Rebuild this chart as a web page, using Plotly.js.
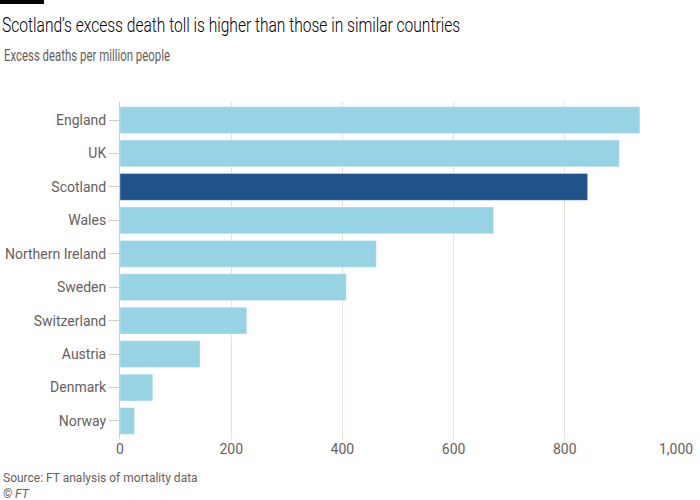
<!DOCTYPE html>
<html>
<head>
<meta charset="utf-8">
<script src="https://cdn.plot.ly/plotly-3.0.1.min.js"></script>
<style>html,body{margin:0;padding:0;background:#fff;}#chart{width:700px;height:500px;}</style>
</head>
<body>
<div id="chart"></div>
<script>
const countries = ["England","UK","Scotland","Wales","Northern Ireland","Sweden","Switzerland","Austria","Denmark","Norway"];
const excessDeaths = [935, 898, 841, 672, 461, 407, 228, 144, 59, 26];
const highlight = "Scotland";
const xTickVals = [0, 200, 400, 600, 800, 1000];
const xTickText = ["0", "200", "400", "600", "800", "1,000"];

const FONT = "Roboto, 'Noto Sans', sans-serif";
const GREY = "#66605c";
const GRID = "#e9e1da";

const colours = countries.map(c => c === highlight ? "#1f538a" : "#96d3e5");

const trace = {
  type: "bar",
  orientation: "h",
  y: countries,
  x: excessDeaths,
  marker: {color: colours, line: {width: 1, color: "rgba(255,255,255,0.35)"}},
  hoverinfo: "skip"
};

const layout = {
  width: 700, height: 500,
  paper_bgcolor: "#fff", plot_bgcolor: "#fff",
  margin: {l: 120, r: 24, t: 102, b: 61},
  showlegend: false,
  bargap: 0.2,
  font: {family: FONT, color: GREY, size: 14},
  title: {
    text: "Scotland’s excess death toll is higher than those in similar countries",
    font: {family: FONT, size: 21, color: "#000", weight: 300},
    xref: "container", yref: "container",
    x: 0.003, xanchor: "left", y: 0.95, yanchor: "middle"
  },
  xaxis: {
    range: [0, 1000],
    tickvals: xTickVals, ticktext: xTickText,
    showgrid: true, gridcolor: GRID, gridwidth: 1,
    zeroline: false, showline: false, ticks: "",
    tickfont: {family: FONT, size: 14, color: GREY},
    fixedrange: true
  },
  yaxis: {
    type: "category",
    range: [9.54, -0.54],
    showline: true, linecolor: "#d5cbc2", linewidth: 1,
    ticks: "outside", ticklen: 10, tickcolor: "#d5cbc2", tickwidth: 1,
    tickfont: {family: FONT, size: 14, color: GREY},
    showgrid: false, zeroline: false,
    fixedrange: true
  },
  shapes: [
    {type: "rect", xref: "paper", yref: "paper", x0: -120/556, x1: -76/556, y0: 1 + 98/337, y1: 1 + 102/337,
     fillcolor: "#000", line: {width: 0}}
  ],
  annotations: [
    {text: "Excess deaths per million people", xref: "paper", yref: "paper",
     x: -118/556, y: 1 + 46/337, xanchor: "left", yanchor: "middle", align: "left", showarrow: false,
     font: {family: FONT, size: 16.5, color: GREY}},
    {text: "Source: FT analysis of mortality data", xref: "paper", yref: "paper",
     x: -119/556, y: -39/337, xanchor: "left", yanchor: "middle", align: "left", showarrow: false,
     font: {family: FONT, size: 12, color: GREY}},
    {text: "<i>© FT</i>", xref: "paper", yref: "paper",
     x: -119/556, y: -55/337, xanchor: "left", yanchor: "middle", align: "left", showarrow: false,
     font: {family: FONT, size: 12, color: GREY}}
  ]
};

function condense(el, width) {
  if (!el) return;
  el.setAttribute("textLength", width);
  el.setAttribute("lengthAdjust", "spacingAndGlyphs");
}

Plotly.newPlot("chart", [trace], layout, {displayModeBar: false, staticPlot: true}).then(gd => {
  condense(gd.querySelector("text.gtitle"), 458);
  const ann = gd.querySelectorAll(".annotation-text");
  if (ann[0]) {
    const bb = ann[0].getBBox();
    ann[0].setAttribute("text-anchor", "start");
    ann[0].setAttribute("x", bb.x);
    condense(ann[0], 166);
  }
});
</script>
</body>
</html>
